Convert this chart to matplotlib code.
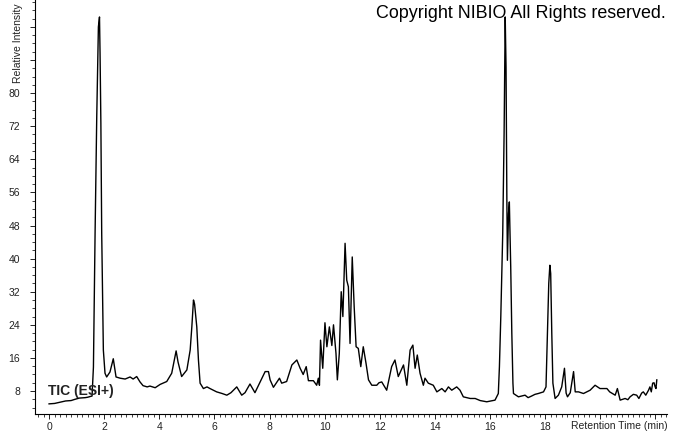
import matplotlib
matplotlib.use("Agg")
import matplotlib.pyplot as plt
from matplotlib.ticker import MultipleLocator, FixedLocator

# Chromatogram trace: retention time (min) and relative intensity
rt = [
    0.00, 0.20, 0.40, 0.60, 0.80, 0.94, 1.10, 1.31, 1.40, 1.56,
    1.61, 1.67, 1.73, 1.79, 1.83, 1.85, 1.88, 1.91, 1.97, 2.03,
    2.09, 2.21, 2.33, 2.43, 2.58, 2.76, 2.94, 3.05, 3.18, 3.30,
    3.41, 3.56, 3.66, 3.85, 4.03, 4.27, 4.45, 4.61, 4.68, 4.81,
    5.00, 5.12, 5.18, 5.24, 5.28, 5.36, 5.42, 5.48, 5.60, 5.73,
    5.84, 6.08, 6.28, 6.45, 6.60, 6.81, 6.99, 7.11, 7.29, 7.47,
    7.66, 7.84, 7.96, 8.02, 8.14, 8.36, 8.44, 8.62, 8.81, 8.99,
    9.11, 9.22, 9.33, 9.41, 9.59, 9.71, 9.77, 9.81, 9.85, 9.93,
    10.01, 10.08, 10.17, 10.26, 10.32, 10.41, 10.46, 10.53, 10.60, 10.66,
    10.74, 10.80, 10.86, 10.92, 11.00, 11.07, 11.14, 11.22, 11.31, 11.40,
    11.50, 11.59, 11.71, 11.89, 11.97, 12.07, 12.25, 12.43, 12.55, 12.67,
    12.86, 12.98, 13.10, 13.20, 13.28, 13.36, 13.46, 13.58, 13.64, 13.76,
    13.94, 14.07, 14.25, 14.37, 14.49, 14.61, 14.79, 14.91, 15.03, 15.28,
    15.46, 15.64, 15.88, 16.18, 16.30, 16.34, 16.39, 16.46, 16.51, 16.55,
    16.58, 16.61, 16.63, 16.67, 16.70, 16.75, 16.79, 16.83, 16.85, 17.03,
    17.27, 17.38, 17.51, 17.63, 17.75, 17.94, 18.03, 18.08, 18.13, 18.17,
    18.20, 18.24, 18.28, 18.36, 18.48, 18.60, 18.70, 18.76, 18.81, 18.91,
    19.03, 19.09, 19.21, 19.39, 19.63, 19.81, 19.99, 20.24, 20.34, 20.54,
    20.62, 20.72, 20.90, 21.00, 21.08, 21.20, 21.32, 21.40, 21.50, 21.56,
    21.65, 21.75, 21.80, 21.85, 21.90, 21.95, 21.99, 22.02, 22.05,
]
intensity = [
    4.9, 5.0, 5.3, 5.6, 5.7, 6.0, 6.3, 6.4, 6.5, 6.8,
    13.8, 46.2, 74.2, 96.0, 98.4, 89.7, 72.7, 46.2, 17.9, 12.3,
    11.4, 12.6, 15.8, 11.4, 11.1, 10.9, 11.4, 10.9, 11.5, 10.2,
    9.3, 9.0, 9.2, 8.8, 9.6, 10.3, 12.3, 17.7, 15.0, 11.5,
    13.1, 17.9, 23.5, 30.0, 29.0, 23.5, 15.5, 9.9, 8.6, 9.0,
    8.6, 7.8, 7.4, 7.0, 7.6, 9.0, 7.0, 7.6, 9.7, 7.6,
    10.2, 12.7, 12.7, 10.7, 8.9, 11.1, 9.9, 10.3, 14.3, 15.5,
    13.5, 12.0, 13.9, 10.5, 10.5, 9.4, 11.1, 9.4, 20.3, 13.5,
    24.5, 18.7, 23.5, 19.0, 24.0, 17.1, 10.7, 17.1, 32.0, 26.0,
    43.7, 34.8, 33.2, 19.5, 40.4, 28.4, 18.7, 18.3, 13.9, 18.7,
    14.7, 10.7, 9.4, 9.4, 10.0, 10.2, 8.2, 13.9, 15.5, 11.5,
    14.3, 9.4, 17.9, 19.1, 13.5, 16.7, 12.3, 9.4, 11.1, 9.9,
    9.4, 7.8, 8.6, 7.8, 9.0, 8.2, 9.0, 8.2, 6.6, 6.2,
    6.2, 5.7, 5.4, 5.8, 7.4, 13.9, 26.0, 46.1, 70.3, 98.4,
    86.3, 54.1, 39.6, 50.9, 53.7, 38.0, 21.9, 9.9, 7.4, 6.6,
    7.0, 6.4, 6.8, 7.2, 7.4, 7.8, 9.0, 21.9, 34.0, 38.4,
    36.4, 21.9, 9.9, 6.2, 7.0, 9.0, 13.5, 7.5, 6.6, 7.6,
    12.7, 7.8, 7.8, 7.4, 8.2, 9.4, 8.6, 8.6, 7.8, 7.0,
    8.6, 5.8, 6.2, 5.9, 6.6, 7.2, 7.0, 6.2, 7.5, 7.8,
    7.0, 8.2, 9.0, 7.8, 9.9, 10.0, 9.0, 8.6, 10.7,
]

y_major = [8, 16, 24, 32, 40, 48, 56, 64, 72, 80, 88, 96]
y_labels = ["8", "16", "24", "32", "40", "48", "56", "64", "72", "80", "", ""]
x_major = [0, 2, 4, 6, 8, 10, 12, 14, 16, 18, 20, 22]
x_labels = ["0", "2", "4", "6", "8", "10", "12", "14", "16", "18", "", ""]

plt.rcParams["font.family"] = ["Liberation Sans", "DejaVu Sans"]

W, H = 673, 433
fig = plt.figure(figsize=(W / 100, H / 100), dpi=100)
ax = fig.add_axes([35 / W, 19 / H, 632 / W, 414 / H])

ax.plot(rt, intensity, color="black", lw=1.0)

ax.set_xlim(-0.51, 22.42)
ax.set_ylim(2.45, 102.5)

ax.spines["top"].set_visible(False)
ax.spines["right"].set_visible(False)
for s in ("left", "bottom"):
    ax.spines[s].set_linewidth(0.8)

ax.xaxis.set_major_locator(FixedLocator(x_major))
ax.set_xticklabels(x_labels)
ax.xaxis.set_minor_locator(MultipleLocator(0.2))
ax.yaxis.set_major_locator(FixedLocator(y_major))
ax.set_yticklabels(y_labels)
ax.yaxis.set_minor_locator(MultipleLocator(2))

ax.tick_params(which="major", length=3.6, width=0.7, labelsize=7.5,
               colors="#222222")
ax.tick_params(which="minor", length=2.0, width=0.6, colors="#222222")
ax.tick_params(axis="y", pad=7)
ax.tick_params(axis="x", pad=2.5)

ax.text(-0.05, 8.0, "TIC (ESI+)", fontsize=10, fontweight="bold",
        color="#222222", ha="left", va="center")

fig.text(18 / W, 1 - 43 / H, "Relative Intensity", rotation=90,
         fontsize=7.5, color="#222222", ha="center", va="center")
fig.text(668 / W, 1 - 426 / H, "Retention Time (min)", fontsize=7.5,
         color="#222222", ha="right", va="center")
fig.text(376 / W, 1 - 14 / H, "Copyright NIBIO All Rights reserved.",
         fontsize=12.9, color="black", ha="left", va="center")

fig.savefig("out.png", dpi=100)
